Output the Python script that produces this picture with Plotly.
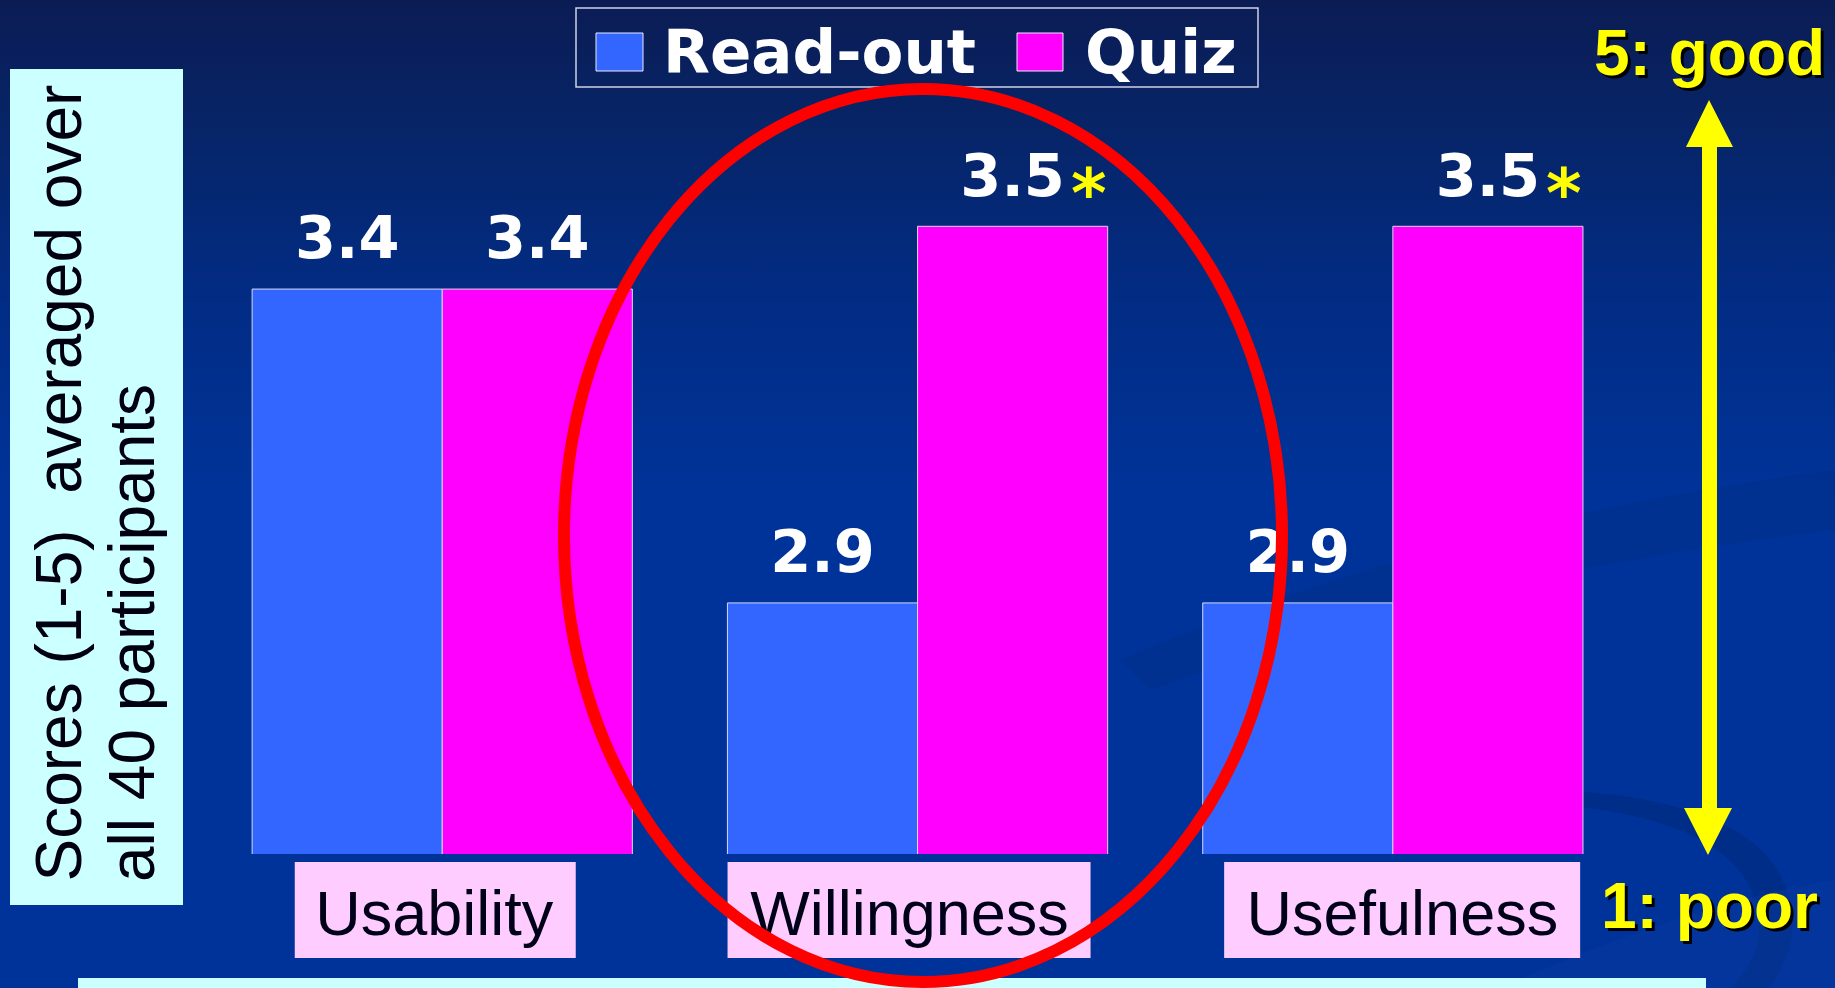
import base64
import plotly.graph_objects as go

# ---------------- data ----------------
categories = ["Usability", "Willingness", "Usefulness"]
readout_scores = [3.4, 2.9, 2.9]
quiz_scores = [3.4, 3.5, 3.5]
quiz_significant = [False, True, True]
series_names = ["Read-out", "Quiz"]
y_title_lines = ["Scores (1-5)\u00a0 averaged over", "all 40 participants"]
scale_top_label = "5: good"
scale_bottom_label = "1: poor"

# ---------------- styling ----------------
W, H = 1835, 988
BLUE = "#3366FF"
MAGENTA = "#FF00FF"
OUTLINE = "#D8D8F0"
PINK = "#FFCCFF"
CYAN = "#CCFFFF"
YELLOW = "#FFFF00"
BOLD_WIDE = "DejaVu Sans"
ARIAL = "Liberation Sans, Arial, sans-serif"


def px(x):
    return x / W


def py(y):
    return 1 - y / H


# axis geometry (pixels)
Y_BASE_PX = 854.0
PX_PER_UNIT = 627.7
Y_MIN = 2.5
Y_MAX = Y_MIN + Y_BASE_PX / PX_PER_UNIT
X_LEFT_PX, X_RIGHT_PX = 204.6, 1630.5
BAR_HALF_OFFSET = 0.2 * (X_RIGHT_PX - X_LEFT_PX) / 3  # px from category centre to bar centre

# tick label padding (leading no-break spaces nudge a label right)
tick_pad = ["", "", "\u00a0\u00a0"]
tick_text = [p + c for p, c in zip(tick_pad, categories)]

# background gradient as inline svg
svg = f'''<svg xmlns="http://www.w3.org/2000/svg" width="{W}" height="{H}" viewBox="0 0 {W} {H}" preserveAspectRatio="none">
<defs><linearGradient id="g" x1="0" y1="0" x2="0" y2="1">
<stop offset="0" stop-color="#0B1C54"/>
<stop offset="0.12" stop-color="#072466"/>
<stop offset="0.30" stop-color="#022C84"/>
<stop offset="0.50" stop-color="#003399"/>
<stop offset="1" stop-color="#003399"/>
</linearGradient></defs>
<rect width="{W}" height="{H}" fill="url(#g)"/>
<path d="M1120 660 Q1450 520 1835 470 L1835 530 Q1480 570 1150 690 Z" fill="#002A80" opacity="0.35"/>
<path d="M1560 805 Q1730 820 1755 900 Q1770 950 1730 988 L1770 988 Q1810 930 1780 875 Q1740 800 1560 790 Z" fill="#00287A" opacity="0.55"/>
<path d="M1500 988 Q1700 900 1835 880 L1835 988 Z" fill="#0A3A9F" opacity="0.4"/>
</svg>'''
bg_uri = "data:image/svg+xml;base64," + base64.b64encode(svg.encode()).decode()

fig = go.Figure()

# bars
for name, vals, col, grp in [(series_names[0], readout_scores, BLUE, "r"),
                             (series_names[1], quiz_scores, MAGENTA, "q")]:
    fig.add_trace(go.Bar(
        name=name, x=categories, y=vals, offsetgroup=grp,
        marker=dict(color=col, line=dict(color=OUTLINE, width=1)),
        hoverinfo="skip", showlegend=False,
    ))

# value labels (grouped scatter text so they sit over each bar)
for vals, grp in [(readout_scores, "r"), (quiz_scores, "q")]:
    fig.add_trace(go.Scatter(
        x=categories, y=vals, offsetgroup=grp, mode="markers+text",
        text=[f"{v:.1f}" for v in vals], textposition="top center",
        textfont=dict(family=BOLD_WIDE, size=59, color="white", weight="bold"),
        marker=dict(size=24, opacity=0), cliponaxis=False,
        hoverinfo="skip", showlegend=False,
    ))

shapes = []
annotations = []

# pink category label boxes (tied to category positions)
box_shift = [-7, -8.5, 9.3]
box_width = [281, 363, 356]
for i, cat in enumerate(categories):
    shapes.append(dict(
        type="rect", xref="x", yref="paper", xsizemode="pixel", xanchor=i,
        x0=box_shift[i] - box_width[i] / 2, x1=box_shift[i] + box_width[i] / 2,
        y0=py(958), y1=py(862), fillcolor=PINK, line=dict(width=0), layer="below",
    ))

# y title box + text
shapes.append(dict(type="rect", xref="paper", yref="paper", x0=px(10), x1=px(183),
                   y0=py(905), y1=py(69), fillcolor=CYAN, line=dict(width=0), layer="below"))
for line, cx in zip(y_title_lines, [58, 132]):
    annotations.append(dict(
        text=line, textangle=-90, xref="paper", yref="paper", x=px(cx), y=py(884),
        xanchor="center", yanchor="bottom", showarrow=False,
        font=dict(family=ARIAL, size=64, color="#000010"),
    ))

# bottom cyan strip
shapes.append(dict(type="rect", xref="paper", yref="paper", x0=px(78), x1=px(1706),
                   y0=py(992), y1=py(978), fillcolor=CYAN, line=dict(width=0), layer="above"))

# manual legend
shapes.append(dict(type="rect", xref="paper", yref="paper", x0=px(576), x1=px(1258),
                   y0=py(87), y1=py(8), fillcolor="rgba(0,0,0,0)",
                   line=dict(color="#D0D0E8", width=1.5), layer="above"))
for name, col, sx0, sx1, tx in [(series_names[0], BLUE, 596, 643, 661),
                                (series_names[1], MAGENTA, 1017, 1063, 1083)]:
    shapes.append(dict(type="rect", xref="paper", yref="paper", x0=px(sx0), x1=px(sx1),
                       y0=py(71), y1=py(33), fillcolor=col,
                       line=dict(color="#E8E8FF", width=1), layer="above"))
    annotations.append(dict(
        text=name, xref="paper", yref="paper", x=px(tx), y=py(51.5),
        xanchor="left", yanchor="middle", showarrow=False,
        font=dict(family=BOLD_WIDE, size=61, color="white", weight="bold"),
    ))

# significance asterisks next to quiz labels
for cat, v, sig in zip(categories, quiz_scores, quiz_significant):
    if sig:
        annotations.append(dict(
            text="*", x=cat, y=v, xref="x", yref="y", xshift=BAR_HALF_OFFSET + 76,
            yshift=33, xanchor="center", yanchor="middle", showarrow=False,
            font=dict(family=BOLD_WIDE, size=68, color=YELLOW, weight="bold"),
        ))

# yellow double arrow
ax_pts = [(1709, 100), (1733, 147), (1717, 147), (1717, 808), (1732, 808), (1708, 855),
          (1684, 808), (1702, 808), (1702, 147), (1686, 147)]
path = "M " + " L ".join(f"{px(x):.5f},{py(y):.5f}" for x, y in ax_pts) + " Z"
shapes.append(dict(type="path", xref="paper", yref="paper", path=path,
                   fillcolor=YELLOW, line=dict(width=0), layer="above"))

# scale end labels
for txt, cy in [(scale_top_label, 53), (scale_bottom_label, 906)]:
    annotations.append(dict(
        text=txt, xref="paper", yref="paper", x=px(1709), y=py(cy),
        xanchor="center", yanchor="middle", showarrow=False,
        font=dict(family=ARIAL, size=64, color=YELLOW, weight="bold",
                  shadow="3px 3px 0px #000000"),
    ))

# red highlight ellipse
shapes.append(dict(type="circle", xref="paper", yref="paper",
                   x0=px(564), x1=px(1282), y0=py(982), y1=py(89),
                   line=dict(color="#FF0000", width=12), fillcolor="rgba(0,0,0,0)",
                   layer="above"))

fig.update_layout(
    width=W, height=H, autosize=False,
    margin=dict(l=0, r=0, t=0, b=0, pad=0),
    paper_bgcolor="#003399", plot_bgcolor="rgba(0,0,0,0)",
    barmode="group", bargap=0.2, bargroupgap=0,
    scattermode="group", scattergap=0.2,
    hovermode=False, showlegend=False,
    xaxis=dict(type="category", domain=[px(X_LEFT_PX), px(X_RIGHT_PX)], range=[-0.5, 2.5],
               tickvals=categories, ticktext=tick_text,
               showgrid=False, zeroline=False, showline=False, ticks="",
               tickfont=dict(family=ARIAL, size=63, color="#000018"),
               ticklabelshift=-8, ticklabelstandoff=17, automargin=False, fixedrange=True),
    yaxis=dict(domain=[py(Y_BASE_PX), 1], range=[Y_MIN, Y_MAX], showgrid=False,
               zeroline=False, showline=False, showticklabels=False, ticks="",
               automargin=False, fixedrange=True),
    images=[dict(source=bg_uri, xref="paper", yref="paper", x=0, y=1, sizex=1, sizey=1,
                 sizing="stretch", xanchor="left", yanchor="top", layer="below")],
    shapes=shapes, annotations=annotations,
)

fig.write_html(
    "out.html",
    config={"displayModeBar": False, "staticPlot": True},
    post_script="document.body.style.margin='0';document.body.style.overflow='hidden';"
                "document.documentElement.style.overflow='hidden';",
)
